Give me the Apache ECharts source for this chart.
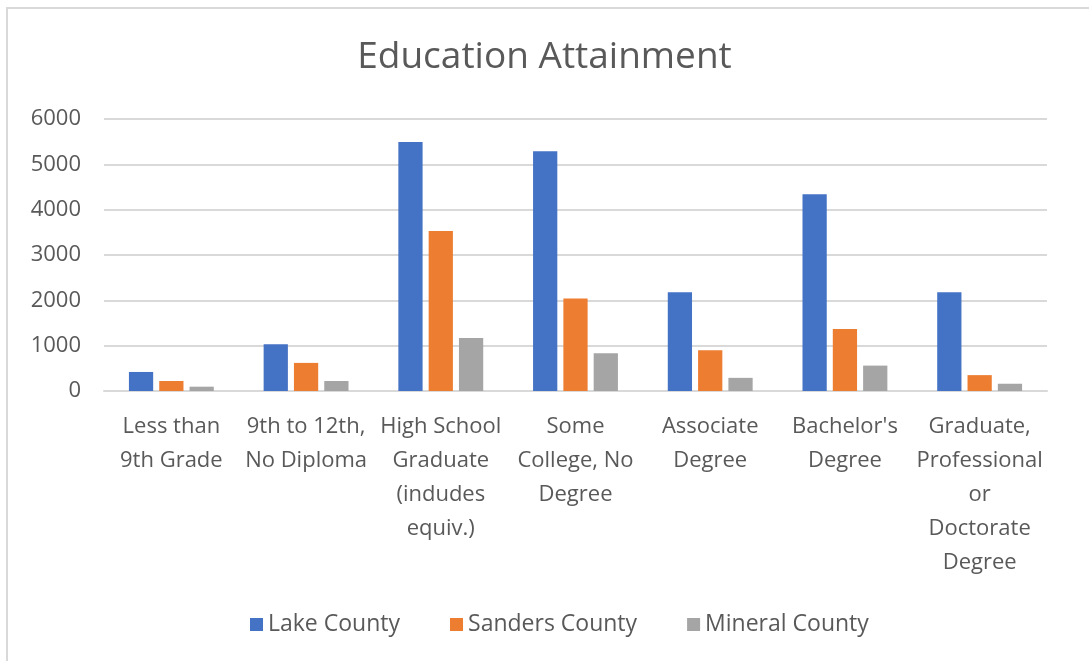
<!DOCTYPE html>
<html>
<head>
<meta charset="utf-8">
<script src="https://cdn.jsdelivr.net/npm/echarts@6/dist/echarts.min.js"></script>
<style>
  html, body { margin: 0; padding: 0; background: #ffffff; }
  #chart { width: 1089px; height: 661px; }
</style>
</head>
<body>
<div id="chart"></div>
<script>
// Educational attainment counts by county
const categories = [
  'Less than\n9th Grade',
  '9th to 12th,\nNo Diploma',
  'High School\nGraduate\n(indudes\nequiv.)',
  'Some\nCollege, No\nDegree',
  'Associate\nDegree',
  "Bachelor's\nDegree",
  'Graduate,\nProfessional\nor\nDoctorate\nDegree'
];
const lakeCounty    = [420, 1030, 5490, 5290, 2180, 4340, 2180];
const sandersCounty = [220, 620, 3530, 2040, 900, 1370, 350];
const mineralCounty = [95, 220, 1170, 830, 290, 560, 160];
const yTicks = [0, 1000, 2000, 3000, 4000, 5000, 6000];

const font = '"Open Sans", Lato, sans-serif';
const textColor = '#595959';

const chart = echarts.init(document.getElementById('chart'));
chart.setOption({
  backgroundColor: '#ffffff',
  animation: false,
  title: {
    text: 'Education Attainment',
    left: 'center',
    top: 34,
    textStyle: { fontFamily: font, fontSize: 37, fontWeight: 'normal', color: textColor }
  },
  graphic: [{
    type: 'rect',
    shape: { x: 7, y: 8, width: 1200, height: 800 },
    style: { fill: 'none', stroke: '#d9d9d9', lineWidth: 2 },
    silent: true
  }],
  legend: {
    bottom: 20,
    left: 245,
    itemWidth: 13,
    itemHeight: 13,
    itemGap: 50,
    icon: 'rect',
    textStyle: { fontFamily: font, fontSize: 23, color: textColor }
  },
  grid: { left: 104, right: 42, top: 119, bottom: 270 },
  xAxis: {
    type: 'category',
    data: categories,
    axisLine: { lineStyle: { color: '#d9d9d9', width: 2 } },
    axisTick: { show: false },
    axisLabel: {
      interval: 0,
      margin: 19,
      fontFamily: font,
      fontSize: 22,
      lineHeight: 34,
      color: textColor
    }
  },
  yAxis: {
    type: 'value',
    min: yTicks[0],
    max: yTicks[yTicks.length - 1],
    interval: 1000,
    axisLine: { show: false },
    axisTick: { show: false },
    splitLine: { lineStyle: { color: '#d9d9d9', width: 2 } },
    axisLabel: {
      margin: 23,
      fontFamily: font,
      fontSize: 22,
      color: textColor,
      formatter: (v) => String(v)
    }
  },
  series: [
    { name: 'Lake County', type: 'bar', data: lakeCounty, itemStyle: { color: '#4472C4' }, barGap: '25%', barCategoryGap: '37%' },
    { name: 'Sanders County', type: 'bar', data: sandersCounty, itemStyle: { color: '#ED7D31' } },
    { name: 'Mineral County', type: 'bar', data: mineralCounty, itemStyle: { color: '#A5A5A5' } }
  ]
});
</script>
</body>
</html>
